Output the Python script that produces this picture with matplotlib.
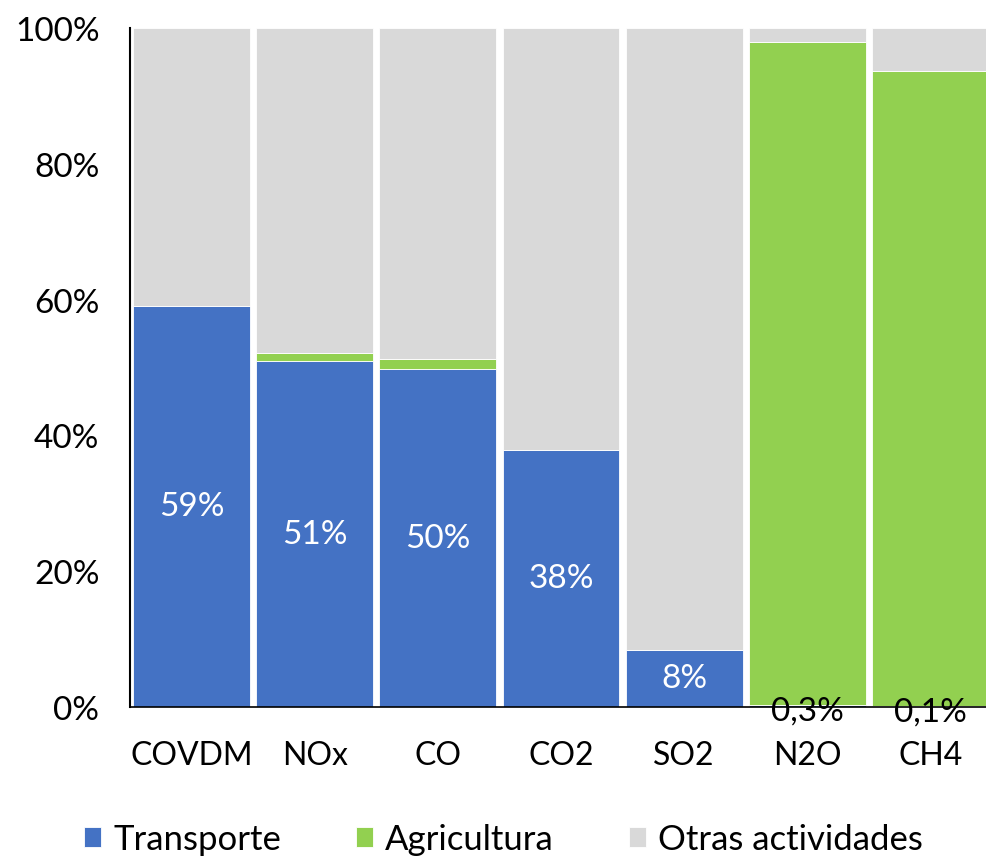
import matplotlib.pyplot as plt
import numpy as np

plt.rcParams['font.family'] = ['Lato', 'DejaVu Sans']

# emission shares by source (percent of total)
contaminantes = ["COVDM", "NOx", "CO", "CO2", "SO2", "N2O", "CH4"]
transporte = [59.1, 50.9, 49.8, 37.9, 8.4, 0.3, 0.1]
agricultura = [0.0, 1.2, 1.4, 0.0, 0.0, 97.7, 93.5]
otras = [100 - t - a for t, a in zip(transporte, agricultura)]

c_trans = "#4472C4"
c_agri = "#92D050"
c_otras = "#D9D9D9"

fig = plt.figure(figsize=(9.87, 8.62), dpi=100)
ax = fig.add_axes([130 / 987, 1 - 708 / 862, (992 - 130) / 987, (708 - 29) / 862])

x = np.arange(len(contaminantes))
w = 0.95
b1 = ax.bar(x, transporte, w, color=c_trans, edgecolor="white", linewidth=0.6, label="Transporte")
b2 = ax.bar(x, agricultura, w, bottom=transporte, color=c_agri, edgecolor="white",
            linewidth=0.6, label="Agricultura")
base = [t + a for t, a in zip(transporte, agricultura)]
b3 = ax.bar(x, otras, w, bottom=base, color=c_otras, edgecolor="white", linewidth=0.6,
            label="Otras actividades")

# transport share labels
for xi, v in zip(x, transporte):
    if v >= 1:
        ax.text(xi, v / 2, f"{v:.0f}%", ha="center", va="center", color="white", fontsize=24)
    else:
        txt = f"{v:.1f}%".replace(".", ",")
        ax.text(xi, v / 2 - 0.7, txt, ha="center", va="center", color="black", fontsize=24)

ax.set_xlim(-0.5, 6.5)
ax.set_ylim(0, 100)
ax.set_yticks(np.arange(0, 101, 20))
ax.set_yticklabels([f"{v}%" for v in range(0, 101, 20)])
ax.set_xticks(x)
ax.set_xticklabels(contaminantes)
ax.tick_params(axis="y", length=0, pad=22, labelsize=24)
ax.tick_params(axis="x", length=0, pad=24, labelsize=23)
for s in ["top", "right"]:
    ax.spines[s].set_visible(False)
ax.spines["left"].set_linewidth(1.5)
ax.spines["bottom"].set_linewidth(1.2)
ax.set_axisbelow(True)

fig.legend(handles=[b1, b2, b3], loc="center", bbox_to_anchor=(0.51, 1 - 840 / 862), ncol=3,
           frameon=False, fontsize=25, handlelength=0.5, handleheight=0.5,
           handletextpad=0.35, columnspacing=2.15)

fig.savefig("out.png", dpi=100)
